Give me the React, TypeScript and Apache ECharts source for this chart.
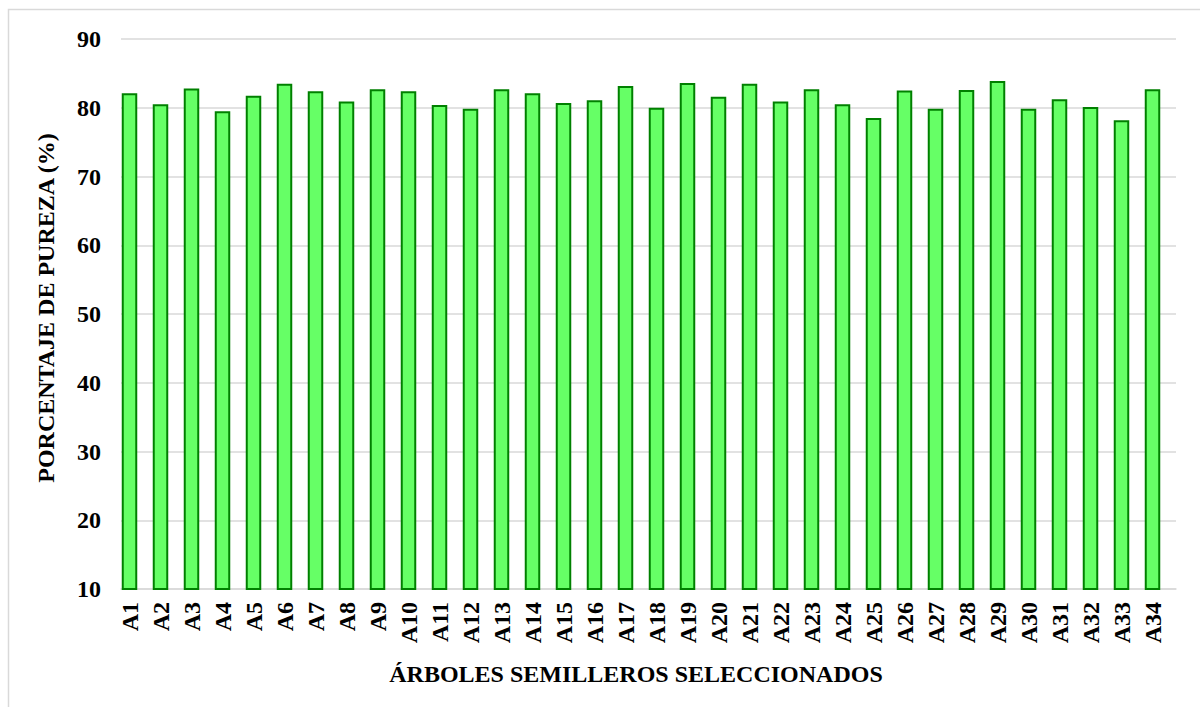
import React, { useEffect, useRef } from "react";
import * as echarts from "echarts";

const categories = [
  "A1", "A2", "A3", "A4", "A5", "A6", "A7", "A8", "A9", "A10",
  "A11", "A12", "A13", "A14", "A15", "A16", "A17", "A18", "A19", "A20",
  "A21", "A22", "A23", "A24", "A25", "A26", "A27", "A28", "A29", "A30",
  "A31", "A32", "A33", "A34",
];

const pureza = [
  82.1, 80.5, 82.8, 79.5, 81.75, 83.5, 82.4, 80.9, 82.7, 82.4,
  80.4, 79.85, 82.7, 82.1, 80.7, 81.1, 83.15, 80.0, 83.6, 81.6,
  83.5, 80.9, 82.7, 80.5, 78.5, 82.5, 79.85, 82.6, 83.9, 79.85,
  81.25, 80.1, 78.2, 82.7,
];

const yTicks = { min: 10, max: 90, interval: 10 };

const FONT = "'Liberation Serif', 'DejaVu Serif', serif";

export default function App() {
  const ref = useRef<HTMLDivElement>(null);

  useEffect(() => {
    document.body.style.margin = "0";
    const chart = echarts.init(ref.current!, null, { renderer: "svg" });
    chart.setOption({
      animation: false,
      backgroundColor: "#ffffff",
      graphic: [
        {
          type: "rect",
          shape: { x: 8.5, y: 9.5, width: 1220, height: 720 },
          style: { fill: "none", stroke: "#d9d9d9", lineWidth: 1.5 },
          silent: true,
        },
        {
          type: "text",
          x: 636,
          y: 674,
          style: {
            text: "ÁRBOLES SEMILLEROS SELECCIONADOS",
            font: `bold 24px ${FONT}`,
            fill: "#000",
            align: "center",
            verticalAlign: "middle",
          },
        },
        {
          type: "text",
          x: 46,
          y: 308,
          rotation: Math.PI / 2,
          style: {
            text: "PORCENTAJE DE PUREZA (%)",
            font: `bold 24px ${FONT}`,
            fill: "#000",
            align: "center",
            verticalAlign: "middle",
          },
        },
      ],
      grid: [
        { left: 121, right: 24, top: 39, bottom: 118 },
        { left: 114, right: 32, top: 39, bottom: 118 },
      ],
      xAxis: [
        {
          gridIndex: 0,
          type: "category",
          data: categories,
          axisLine: { show: true, lineStyle: { color: "#d9d9d9", width: 1.5 } },
          axisTick: { show: false },
          axisLabel: { show: false },
        },
        {
          gridIndex: 1,
          type: "category",
          data: categories,
          axisLine: { show: false },
          axisTick: { show: false },
          axisLabel: {
            rotate: 90,
            margin: 13,
            interval: 0,
            color: "#000",
            fontFamily: FONT,
            fontWeight: "bold",
            fontSize: 24,
          },
        },
      ],
      yAxis: [
        {
          gridIndex: 0,
          type: "value",
          min: yTicks.min,
          max: yTicks.max,
          interval: yTicks.interval,
          axisLine: { show: false },
          axisTick: { show: false },
          splitLine: { lineStyle: { color: "#d9d9d9", width: 1.5 } },
          axisLabel: {
            margin: 20,
            color: "#000",
            fontFamily: FONT,
            fontWeight: "bold",
            fontSize: 24,
          },
        },
        {
          gridIndex: 1,
          type: "value",
          min: yTicks.min,
          max: yTicks.max,
          interval: yTicks.interval,
          show: false,
          splitLine: { show: false },
        },
      ],
      series: [
        {
          type: "bar",
          xAxisIndex: 1,
          yAxisIndex: 1,
          data: pureza,
          barWidth: 15.5,
          itemStyle: {
            color: "#66ff66",
            borderColor: "#008000",
            borderWidth: 2,
          },
        },
      ],
    });
    return () => chart.dispose();
  }, []);

  return <div ref={ref} style={{ width: 1200, height: 707 }} />;
}
